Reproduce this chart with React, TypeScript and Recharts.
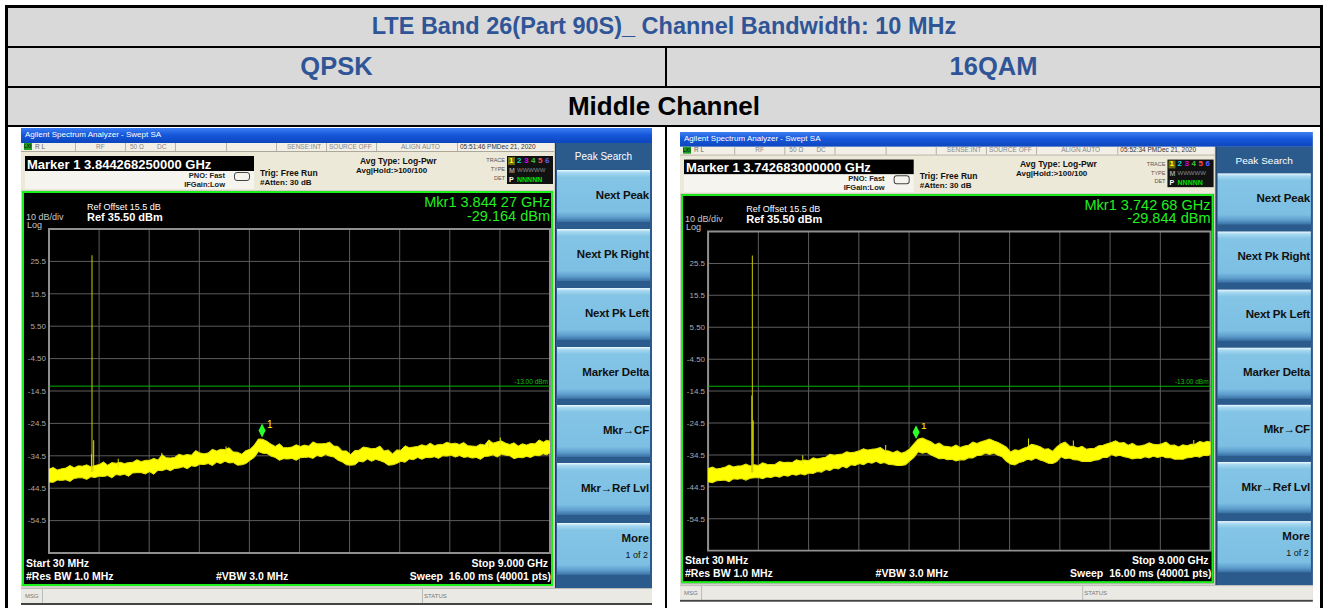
import React from 'react';
import { ComposedChart, Area, XAxis, YAxis, CartesianGrid, ReferenceLine, ReferenceArea, ReferenceDot } from 'recharts';

// sweep frequency grid, GHz
const freqs = [
  0.03, 0.18, 0.33, 0.48, 0.63, 0.78, 0.93, 1.08, 1.23, 1.38,
  1.53, 1.68, 1.83, 1.98, 2.13, 2.28, 2.43, 2.58, 2.73, 2.88,
  3.03, 3.18, 3.33, 3.48, 3.63, 3.78, 3.93, 4.08, 4.23, 4.38,
  4.53, 4.68, 4.83, 4.98, 5.13, 5.28, 5.43, 5.58, 5.73, 5.88,
  6.03, 6.18, 6.33, 6.48, 6.63, 6.78, 6.93, 7.08, 7.23, 7.38,
  7.53, 7.68, 7.83, 7.98, 8.13, 8.28, 8.43, 8.58, 8.73, 8.88,
  9.0,
];
// in-between frequencies where the noise peaks were read
const freqsMid = [
  0.105, 0.255, 0.405, 0.555, 0.705, 0.855, 1.005, 1.155, 1.305, 1.455,
  1.605, 1.755, 1.905, 2.055, 2.205, 2.355, 2.505, 2.655, 2.805, 2.955,
  3.105, 3.255, 3.405, 3.555, 3.705, 3.855, 4.005, 4.155, 4.305, 4.455,
  4.605, 4.755, 4.905, 5.055, 5.205, 5.355, 5.505, 5.655, 5.805, 5.955,
  6.105, 6.255, 6.405, 6.555, 6.705, 6.855, 7.005, 7.155, 7.305, 7.455,
  7.605, 7.755, 7.905, 8.055, 8.205, 8.355, 8.505, 8.655, 8.805, 8.94,
];

// QPSK trace envelope (dBm)
const qpskHi = [
  -38.6, -38.9, -38.3, -38.2, -37.7, -37.9, -37.2, -37.4, -36.8, -36.9,
  -36.5, -36.3, -35.9, -35.8, -35.1, -35.0, -34.4, -34.3, -33.6, -33.6,
  -33.0, -32.6, -33.3, -34.0, -32.5, -29.3, -30.0, -31.6, -32.0, -31.8,
  -31.6, -31.5, -30.8, -30.7, -31.5, -33.0, -34.1, -32.8, -32.0, -32.2,
  -33.0, -33.9, -32.8, -32.0, -31.6, -31.5, -31.4, -31.0, -30.8, -31.0,
  -31.4, -31.6, -31.2, -30.6, -29.9, -31.0, -31.5, -31.2, -30.8, -30.3,
  -30.0,
];
const qpskHiMid = [
  -38.1, -38.5, -37.5, -37.6, -37.3, -37.5, -36.4, -36.6, -36.5, -36.6,
  -35.7, -35.9, -35.3, -34.2, -35.2, -34.0, -34.1, -32.9, -33.9, -32.5,
  -32.5, -32.0, -33.4, -32.9, -31.2, -29.4, -30.9, -30.8, -32.0, -31.1,
  -31.2, -30.2, -30.8, -30.3, -31.6, -33.0, -32.9, -31.8, -32.3, -31.5,
  -32.7, -32.7, -31.4, -31.8, -31.1, -30.6, -31.0, -30.3, -30.6, -30.4,
  -31.5, -30.9, -29.6, -30.2, -30.6, -30.5, -30.8, -30.7, -29.6, -29.7,
];
const qpskLo = [
  -42.6, -42.0, -41.9, -41.5, -41.3, -41.0, -40.8, -40.6, -40.3, -40.2,
  -39.8, -39.7, -39.4, -39.0, -38.6, -38.4, -37.9, -37.6, -37.1, -36.9,
  -36.5, -36.2, -36.6, -37.3, -35.9, -33.2, -33.8, -35.0, -35.4, -35.3,
  -35.1, -34.9, -34.4, -34.1, -34.9, -36.4, -37.4, -36.2, -35.5, -35.6,
  -36.5, -37.3, -36.2, -35.5, -35.0, -35.0, -34.8, -34.5, -34.3, -34.4,
  -34.8, -35.0, -34.7, -34.2, -34.0, -34.5, -35.0, -34.7, -34.3, -33.9,
  -33.6,
];
const qpskLoMid = [
  -42.7, -42.1, -42.4, -41.3, -41.8, -41.2, -40.9, -41.3, -40.5, -40.8,
  -39.7, -40.1, -40.2, -39.1, -39.1, -38.3, -38.5, -37.8, -37.2, -37.5,
  -36.9, -36.7, -37.4, -36.9, -35.0, -33.7, -34.6, -35.9, -35.5, -35.9,
  -35.0, -35.3, -34.8, -34.6, -35.9, -37.3, -37.3, -36.4, -36.2, -36.0,
  -37.4, -36.9, -36.5, -35.7, -35.6, -35.1, -35.3, -34.6, -34.9, -35.0,
  -35.2, -35.6, -34.6, -34.9, -34.3, -35.4, -35.1, -35.0, -34.5, -34.2,
];

// 16QAM trace envelope (dBm)
const qamHi = [
  -38.8, -38.9, -38.4, -38.3, -37.9, -38.0, -37.8, -37.4, -37.4, -36.9,
  -36.9, -36.4, -36.3, -35.8, -35.2, -34.6, -34.2, -33.8, -33.2, -33.0,
  -32.6, -33.1, -33.8, -34.0, -32.6, -29.6, -29.8, -31.3, -31.7, -32.1,
  -32.2, -31.5, -30.9, -30.0, -30.1, -31.3, -33.6, -33.1, -32.0, -31.5,
  -32.7, -33.4, -31.0, -31.7, -32.3, -32.7, -32.4, -31.5, -30.6, -30.8,
  -31.5, -31.7, -31.3, -31.2, -31.0, -31.5, -32.0, -31.6, -31.1, -30.6,
  -30.5,
];
const qamHiMid = [
  -38.3, -38.7, -37.7, -38.0, -37.4, -37.6, -37.0, -37.5, -36.6, -36.8,
  -36.0, -36.1, -35.4, -35.5, -34.3, -34.4, -33.5, -33.6, -32.6, -32.7,
  -32.2, -33.3, -33.2, -33.5, -31.0, -29.2, -30.4, -30.8, -31.9, -31.4,
  -31.7, -30.5, -30.4, -29.5, -30.6, -32.1, -32.9, -32.5, -31.2, -31.9,
  -32.6, -32.0, -30.5, -31.9, -31.8, -32.5, -31.6, -31.0, -30.1, -30.6,
  -30.9, -31.6, -30.7, -31.3, -30.5, -31.4, -31.3, -31.2, -30.3, -30.2,
];
const qamLo = [
  -42.9, -42.6, -42.4, -42.0, -41.9, -41.8, -41.6, -41.4, -41.1, -40.9,
  -40.6, -40.4, -40.2, -39.7, -39.1, -38.6, -38.1, -37.6, -37.2, -36.8,
  -36.5, -36.9, -37.6, -37.8, -36.4, -33.5, -33.7, -35.1, -35.6, -35.9,
  -36.0, -35.4, -34.7, -33.9, -33.9, -35.1, -37.4, -36.9, -35.9, -35.5,
  -36.5, -37.2, -35.1, -35.5, -36.1, -36.5, -36.2, -35.3, -34.4, -34.6,
  -35.3, -35.5, -35.1, -34.9, -34.9, -35.3, -35.8, -35.4, -34.9, -34.6,
  -34.4,
];
const qamLoMid = [
  -43.2, -42.5, -42.9, -42.1, -42.4, -41.7, -42.0, -41.6, -41.5, -41.2,
  -40.9, -40.8, -40.3, -39.9, -39.4, -38.9, -38.6, -37.8, -37.6, -37.1,
  -37.2, -37.5, -37.8, -37.6, -35.3, -34.0, -34.5, -35.7, -36.0, -36.4,
  -36.1, -35.5, -34.6, -34.4, -34.6, -36.5, -37.7, -36.6, -36.2, -36.1,
  -37.1, -36.6, -35.7, -36.0, -36.6, -36.6, -36.0, -35.3, -34.9, -35.1,
  -35.8, -35.6, -35.5, -35.3, -35.4, -35.9, -35.9, -35.3, -35.2, -34.8,
];

// carrier and stray spikes
const qpskSpikeFreq = [0.79, 0.8, 0.83, 1.27, 2.05, 3.2, 7.9, 8.11];
const qpskSpikeTop = [-34.0, 27.4, -29.7, -35.4, -33.6, -31.6, -29.6, -28.9];
const qpskSpikeBase = [-39.5, -39.5, -39.3, -38.0, -36.0, -34.0, -32.0, -31.5];
const qamSpikeFreq = [0.81, 0.82, 0.835, 1.72, 3.2, 5.75, 6.55, 8.7];
const qamSpikeTop = [-15.9, 28.0, -23.7, -34.6, -31.4, -29.4, -30.0, -29.8];
const qamSpikeBase = [-40.0, -40.0, -39.9, -37.5, -34.0, -32.0, -32.5, -32.0];

const markerFreq = [3.84426825, 3.742683];
const markerLevel = [-29.164, -29.844];
const limitLevel = -13;

const yTicks = [35.5, 25.5, 15.5, 5.5, -4.5, -14.5, -24.5, -34.5, -44.5, -54.5, -64.5];
const yLabels = ['', '25.5', '15.5', '5.50', '-4.50', '-14.5', '-24.5', '-34.5', '-44.5', '-54.5', ''];
const xTicks = [0.03, 0.927, 1.824, 2.721, 3.618, 4.515, 5.412, 6.309, 7.206, 8.103, 9.0];

const softkeys = ['Next Peak', 'Next Pk Right', 'Next Pk Left', 'Marker Delta', 'Mkr\u2192CF', 'Mkr\u2192Ref Lvl', 'More'];
const keyTops = [42, 101, 160, 219, 277, 335, 395];

const FONT = '"Liberation Sans", Arial, sans-serif';
const W = 631;
const H = 477;

const Txt = ({ x, y, s = 8, c = '#222', b = false, end = false, children }: any) => (
  <div
    style={{
      position: 'absolute',
      top: y,
      ...(end ? { right: W - x } : { left: x }),
      transform: 'translateY(-50%)',
      fontSize: s,
      color: c,
      fontWeight: b ? 'bold' : 'normal',
      lineHeight: 1,
      whiteSpace: 'pre',
      fontFamily: FONT,
    }}
  >
    {children}
  </div>
);

const MarkerShape = (props: any) => {
  const { cx, cy } = props;
  return (
    <g>
      <polygon points={`${cx},${cy - 1} ${cx + 3.5},${cy - 8} ${cx},${cy - 15} ${cx - 3.5},${cy - 8}`} fill="#2bff2b" />
      <text x={cx + 5} y={cy - 11} fill="#ffff00" fontSize={10} fontFamily={FONT}>1</text>
    </g>
  );
};

const Screenshot = ({ left, top, sx, sy, info, hi, lo, hiMid, loMid, spikeF, spikeTop, spikeBase, mkF, mkV }: any) => {
  const rows: any[] = [];
  freqs.forEach((f, i) => {
    rows.push({ f, band: [lo[i], hi[i]] });
    if (i < freqsMid.length) rows.push({ f: freqsMid[i], band: [loMid[i], hiMid[i]] });
  });
  const sep = [54, 104, 154, 205, 255, 305, 355, 436];
  return (
    <div
      style={{
        position: 'absolute', left, top, width: W, height: H, overflow: 'hidden',
        transform: `scale(${sx},${sy})`, transformOrigin: '0 0', background: '#d4d0c8',
      }}
    >
      {/* title bar */}
      <div style={{ position: 'absolute', left: 0, top: 0, width: W, height: 15, background: 'linear-gradient(to bottom, #3d7ef2 0%, #1658da 45%, #0c45bd 100%)' }} />
      <Txt x={4} y={7} s={8} c="#fff">Agilent Spectrum Analyzer - Swept SA</Txt>

      {/* status row */}
      <div style={{ position: 'absolute', left: 0, top: 15, width: 533, height: 8, background: '#f1efe6', borderBottom: '1px solid #aca899' }} />
      {sep.map((s) => (
        <div key={s} style={{ position: 'absolute', left: s, top: 15, width: 1, height: 8, background: '#b5b2a6' }} />
      ))}
      <div style={{ position: 'absolute', left: 3, top: 15, width: 8, height: 7, background: '#1f9d1f', fontSize: 5, lineHeight: '7px', color: '#000', fontFamily: FONT }}>LXI</div>
      <Txt x={14} y={19} s={6.5} c="#666">R L</Txt>
      <Txt x={75} y={19} s={6.5} c="#888">RF</Txt>
      <Txt x={109} y={19} s={6.5} c="#888">50 Ω</Txt>
      <Txt x={136} y={19} s={6.5} c="#888">DC</Txt>
      <Txt x={266} y={19} s={6.5} c="#888">SENSE:INT</Txt>
      <Txt x={308} y={19} s={6.5} c="#888">SOURCE OFF</Txt>
      <Txt x={380} y={19} s={6.5} c="#888">ALIGN AUTO</Txt>
      <Txt x={439} y={19} s={6.5} c="#333">{info.time}</Txt>

      {/* marker row */}
      <div style={{ position: 'absolute', left: 0, top: 24, width: 533, height: 38, background: '#ece9d8' }} />
      <div style={{ position: 'absolute', left: 4, top: 28, width: 229, height: 15, background: '#000' }} />
      <Txt x={6} y={35.5} s={13} c="#fff" b>{info.marker}</Txt>
      <div style={{ position: 'absolute', left: 4, top: 43, width: 229, height: 18, background: '#f5f4ee' }} />
      <Txt x={204} y={48} s={7.5} c="#222" b end>PNO: Fast</Txt>
      <div style={{ position: 'absolute', left: 213, top: 44, width: 14, height: 7, border: '1px solid #444', borderRadius: 3 }} />
      <Txt x={204} y={57} s={7.5} c="#222" b end>IFGain:Low</Txt>
      <Txt x={239} y={45} s={8.5} c="#111" b>Trig: Free Run</Txt>
      <Txt x={239} y={55} s={8} c="#111" b>#Atten: 30 dB</Txt>
      <Txt x={339} y={33} s={8.5} c="#111" b>Avg Type: Log-Pwr</Txt>
      <Txt x={335} y={43} s={8} c="#111" b>Avg|Hold:&gt;100/100</Txt>
      <Txt x={484} y={33} s={5.5} c="#555" end>TRACE</Txt>
      <Txt x={484} y={42} s={5.5} c="#555" end>TYPE</Txt>
      <Txt x={484} y={51} s={5.5} c="#555" end>DET</Txt>
      <div style={{ position: 'absolute', left: 486, top: 28, width: 46, height: 28, background: '#111' }} />
      <div style={{ position: 'absolute', left: 487, top: 29, width: 7, height: 8, background: '#6a6a10' }} />
      <Txt x={488} y={33} s={8} c="#ffff00" b>1</Txt>
      <Txt x={496} y={33} s={8} c="#00d0d0" b>2</Txt>
      <Txt x={503} y={33} s={8} c="#e000e0" b>3</Txt>
      <Txt x={510} y={33} s={8} c="#40c040" b>4</Txt>
      <Txt x={517} y={33} s={8} c="#ff5050" b>5</Txt>
      <Txt x={524} y={33} s={8} c="#6060ff" b>6</Txt>
      <Txt x={488} y={42} s={7} c="#999" b>M</Txt>
      <Txt x={496} y={42} s={6} c="#888">WWWWW</Txt>
      <Txt x={488} y={51} s={7} c="#fff" b>P</Txt>
      <Txt x={496} y={51} s={7} c="#00e000" b>NNNNN</Txt>

      {/* softkey panel */}
      <div style={{ position: 'absolute', left: 534, top: 15, width: 97, height: 446, background: '#2b5b8d', borderLeft: '1px solid #1a3a60' }} />
      <div style={{ position: 'absolute', left: 534, top: 24, width: 97, textAlign: 'center', color: '#fff', fontSize: 10, fontFamily: FONT, lineHeight: 1 }}>Peak Search</div>
      {softkeys.map((k, i) => (
        <div
          key={k}
          style={{
            position: 'absolute', left: 536, top: keyTops[i], width: 93, height: 52,
            background: 'linear-gradient(to bottom, #eefaff 0%, #a8d9f1 5%, #84c5e6 14%, #7cbfe3 80%, #5e9ecd 91%, #3a6fa3 100%)',
          }}
        >
          {i < 6 ? (
            <div style={{ position: 'absolute', right: 1, top: 20, fontSize: 11.5, fontWeight: 'bold', color: '#111', fontFamily: FONT, lineHeight: 1, whiteSpace: 'nowrap', letterSpacing: -0.2 }}>{k}</div>
          ) : (
            <>
              <div style={{ position: 'absolute', right: 1, top: 10, fontSize: 11.5, fontWeight: 'bold', color: '#111', fontFamily: FONT, lineHeight: 1 }}>{k}</div>
              <div style={{ position: 'absolute', right: 2, top: 28, fontSize: 9, color: '#111', fontFamily: FONT, lineHeight: 1 }}>1 of 2</div>
            </>
          )}
        </div>
      ))}

      {/* plot window */}
      <div style={{ position: 'absolute', left: 1, top: 63, width: 531, height: 395, background: '#000', border: '2px solid #1cf01c', boxSizing: 'border-box' }} />
      <Txt x={66} y={79} s={9} c="#fff">Ref Offset 15.5 dB</Txt>
      <Txt x={66} y={88.5} s={11} c="#fff" b>Ref 35.50 dBm</Txt>
      <Txt x={5} y={89} s={9} c="#c8c8c8">10 dB/div</Txt>
      <Txt x={6} y={97} s={9} c="#c8c8c8">Log</Txt>
      <Txt x={529} y={74} s={14.5} c="#22ee22" end>{info.mkrFreq}</Txt>
      <Txt x={529} y={88} s={14.5} c="#22ee22" end>{info.mkrLevel}</Txt>
      <Txt x={5} y={435} s={10.5} c="#fff" b>Start 30 MHz</Txt>
      <Txt x={527} y={435} s={10.5} c="#fff" b end>Stop 9.000 GHz</Txt>
      <Txt x={5} y={448} s={10.5} c="#fff" b>#Res BW 1.0 MHz</Txt>
      <Txt x={195} y={448} s={10.5} c="#fff" b>#VBW 3.0 MHz</Txt>
      <Txt x={530} y={448} s={10.5} c="#fff" b end>{'Sweep  16.00 ms (40001 pts)'}</Txt>

      <div style={{ position: 'absolute', left: 3, top: 97 }}>
        <ComposedChart width={528} height={330} data={rows} margin={{ top: 4, right: 2, bottom: 2, left: 0 }}>
          <CartesianGrid stroke="#5c5c5c" strokeWidth={1} />
          <XAxis dataKey="f" type="number" domain={[0.03, 9]} ticks={xTicks} hide />
          <YAxis
            type="number"
            domain={[-64.5, 35.5]}
            ticks={yTicks}
            interval={0}
            width={25}
            axisLine={false}
            tickLine={false}
            tickSize={0}
            tickMargin={3}
            tickFormatter={(v: number) => yLabels[yTicks.indexOf(v)]}
            tick={{ fill: '#a9a9a9', fontSize: 8, fontFamily: FONT }}
          />
          <ReferenceArea x1={0.03} x2={9} y1={-64.5} y2={35.5} fill="none" stroke="#8f8f8f" strokeWidth={2} ifOverflow="visible" />
          <ReferenceLine
            y={limitLevel}
            stroke="#00b400"
            strokeWidth={1}
            label={{ value: '-13.00 dBm', position: 'insideBottomRight', offset: 2, fill: '#10c010', fontSize: 6.5 }}
          />
          <Area type="linear" dataKey="band" stroke="#e6e600" strokeWidth={1} fill="#ffff00" fillOpacity={1} isAnimationActive={false} dot={false} activeDot={false} />
          {spikeF.map((f: number, i: number) => (
            <ReferenceLine
              key={i}
              segment={[{ x: f, y: spikeBase[i] }, { x: f, y: spikeTop[i] }]}
              stroke={spikeTop[i] > -20 ? '#c9c900' : '#e6e600'}
              strokeWidth={1}
            />
          ))}
          <ReferenceDot x={mkF} y={mkV} r={3} shape={MarkerShape} />
        </ComposedChart>
      </div>

      {/* message bar */}
      <div style={{ position: 'absolute', left: 0, top: 460, width: W, height: 15, background: '#ebe9e4', borderTop: '1px solid #bbb' }} />
      <div style={{ position: 'absolute', left: 21, top: 461, width: 1, height: 14, background: '#bbb' }} />
      <div style={{ position: 'absolute', left: 401, top: 461, width: 1, height: 14, background: '#bbb' }} />
      <Txt x={4} y={468} s={6} c="#777">MSG</Txt>
      <Txt x={403} y={468} s={6} c="#777">STATUS</Txt>
      <div style={{ position: 'absolute', left: 0, top: 475, width: W, height: 2, background: '#444' }} />
    </div>
  );
};

const App = () => {
  return (
    <div style={{ position: 'absolute', left: 0, top: 0, width: 1330, height: 608, background: '#fff', overflow: 'hidden', fontFamily: FONT }}>
      {/* table frame */}
      <div style={{ position: 'absolute', left: 5, top: 5, width: 1318, height: 3, background: '#000' }} />
      <div style={{ position: 'absolute', left: 5, top: 5, width: 3, height: 610, background: '#000' }} />
      <div style={{ position: 'absolute', left: 1320, top: 5, width: 3, height: 610, background: '#000' }} />
      <div style={{ position: 'absolute', left: 8, top: 8, width: 1312, height: 117, background: '#d9d9d9' }} />
      <div style={{ position: 'absolute', left: 8, top: 46, width: 1312, height: 2, background: '#000' }} />
      <div style={{ position: 'absolute', left: 8, top: 86, width: 1312, height: 2, background: '#000' }} />
      <div style={{ position: 'absolute', left: 8, top: 125, width: 1312, height: 2, background: '#000' }} />
      <div style={{ position: 'absolute', left: 665, top: 48, width: 2, height: 38, background: '#000' }} />
      <div style={{ position: 'absolute', left: 665, top: 127, width: 2, height: 490, background: '#000' }} />

      <div style={{ position: 'absolute', left: 8, width: 1312, top: 27, transform: 'translateY(-50%)', textAlign: 'center', fontSize: 23.5, fontWeight: 'bold', color: '#2f5597', lineHeight: 1 }}>
        LTE Band 26(Part 90S)_ Channel Bandwidth: 10 MHz
      </div>
      <div style={{ position: 'absolute', left: 8, width: 657, top: 67, transform: 'translateY(-50%)', textAlign: 'center', fontSize: 25.5, fontWeight: 'bold', color: '#2f5597', lineHeight: 1 }}>QPSK</div>
      <div style={{ position: 'absolute', left: 667, width: 653, top: 67, transform: 'translateY(-50%)', textAlign: 'center', fontSize: 25.5, fontWeight: 'bold', color: '#2f5597', lineHeight: 1 }}>16QAM</div>
      <div style={{ position: 'absolute', left: 8, width: 1312, top: 106, transform: 'translateY(-50%)', textAlign: 'center', fontSize: 26, fontWeight: 'bold', color: '#000', lineHeight: 1 }}>Middle Channel</div>

      <Screenshot
        left={21}
        top={128}
        sx={1}
        sy={1}
        info={{ time: '05:51:46 PMDec 21, 2020', marker: 'Marker 1 3.844268250000 GHz', mkrFreq: 'Mkr1 3.844 27 GHz', mkrLevel: '-29.164 dBm' }}
        hi={qpskHi}
        lo={qpskLo}
        hiMid={qpskHiMid}
        loMid={qpskLoMid}
        spikeF={qpskSpikeFreq}
        spikeTop={qpskSpikeTop}
        spikeBase={qpskSpikeBase}
        mkF={markerFreq[0]}
        mkV={markerLevel[0]}
      />
      <Screenshot
        left={680}
        top={132}
        sx={1.003}
        sy={0.985}
        info={{ time: '05:52:34 PMDec 21, 2020', marker: 'Marker 1 3.742683000000 GHz', mkrFreq: 'Mkr1 3.742 68 GHz', mkrLevel: '-29.844 dBm' }}
        hi={qamHi}
        lo={qamLo}
        hiMid={qamHiMid}
        loMid={qamLoMid}
        spikeF={qamSpikeFreq}
        spikeTop={qamSpikeTop}
        spikeBase={qamSpikeBase}
        mkF={markerFreq[1]}
        mkV={markerLevel[1]}
      />
    </div>
  );
};

export default App;
